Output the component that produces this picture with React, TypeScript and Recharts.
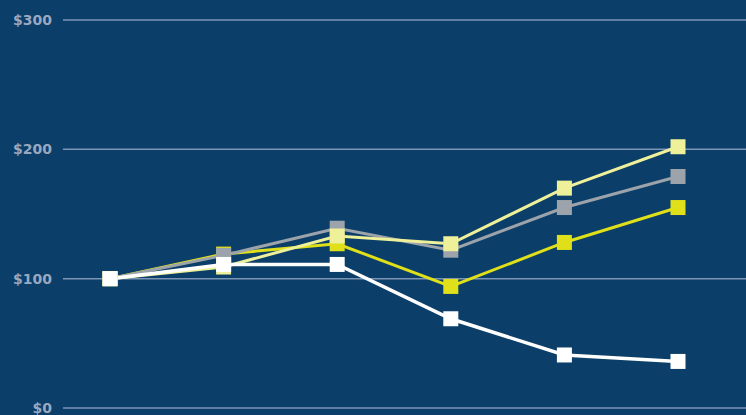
import { CartesianGrid, Line, LineChart, XAxis, YAxis } from "recharts";

const periods = ["2019", "2020", "2021", "2022", "2023", "2024"];
const whiteSeries = [100, 111, 111, 69, 41, 36];
const graySeries = [100, 118, 139, 122, 155, 179];
const lightYellowSeries = [100, 109, 133, 127, 170, 202];
const yellowSeries = [100, 119, 127, 94, 128, 155];
const yTicks = [0, 100, 200, 300];

const data = periods.map((p, i) => ({
  period: p,
  white: whiteSeries[i],
  gray: graySeries[i],
  lightYellow: lightYellowSeries[i],
  yellow: yellowSeries[i],
}));

const square = (color: string) => (props: any) => {
  const { cx, cy, index } = props;
  if (cx == null || cy == null) return <g key={index} />;
  return <rect key={index} x={cx - 7.5} y={cy - 7.5} width={15} height={15} fill={color} />;
};

export default function App() {
  return (
    <div style={{ position: "fixed", left: 0, top: 0, width: 746, height: 415, background: "#0b3e68" }}>
      <LineChart
        width={746}
        height={415}
        data={data}
        margin={{ top: 20, right: 0, bottom: 7, left: 0 }}
      >
        <CartesianGrid vertical={false} stroke="#7d95b4" strokeWidth={1.5} />
        <XAxis dataKey="period" hide padding={{ left: 47, right: 68 }} />
        <YAxis
          domain={[0, 300]}
          ticks={yTicks}
          interval={0}
          width={63}
          axisLine={false}
          tickLine={false}
          tickSize={6}
          tickMargin={5}
          tickFormatter={(v) => `$${v}`}
          tick={{ fill: "#9aa8c0", fontSize: 14, fontWeight: "bold", fontFamily: "DejaVu Sans" }}
        />
        <Line
          dataKey="yellow"
          stroke="#e0e01a"
          strokeWidth={3}
          dot={square("#e0e01a")}
          isAnimationActive={false}
        />
        <Line
          dataKey="gray"
          stroke="#9ca3aa"
          strokeWidth={3}
          dot={square("#9ca3aa")}
          isAnimationActive={false}
        />
        <Line
          dataKey="lightYellow"
          stroke="#eef09a"
          strokeWidth={3}
          dot={square("#eef09a")}
          isAnimationActive={false}
        />
        <Line
          dataKey="white"
          stroke="#ffffff"
          strokeWidth={3.5}
          dot={square("#ffffff")}
          isAnimationActive={false}
        />
      </LineChart>
    </div>
  );
}
